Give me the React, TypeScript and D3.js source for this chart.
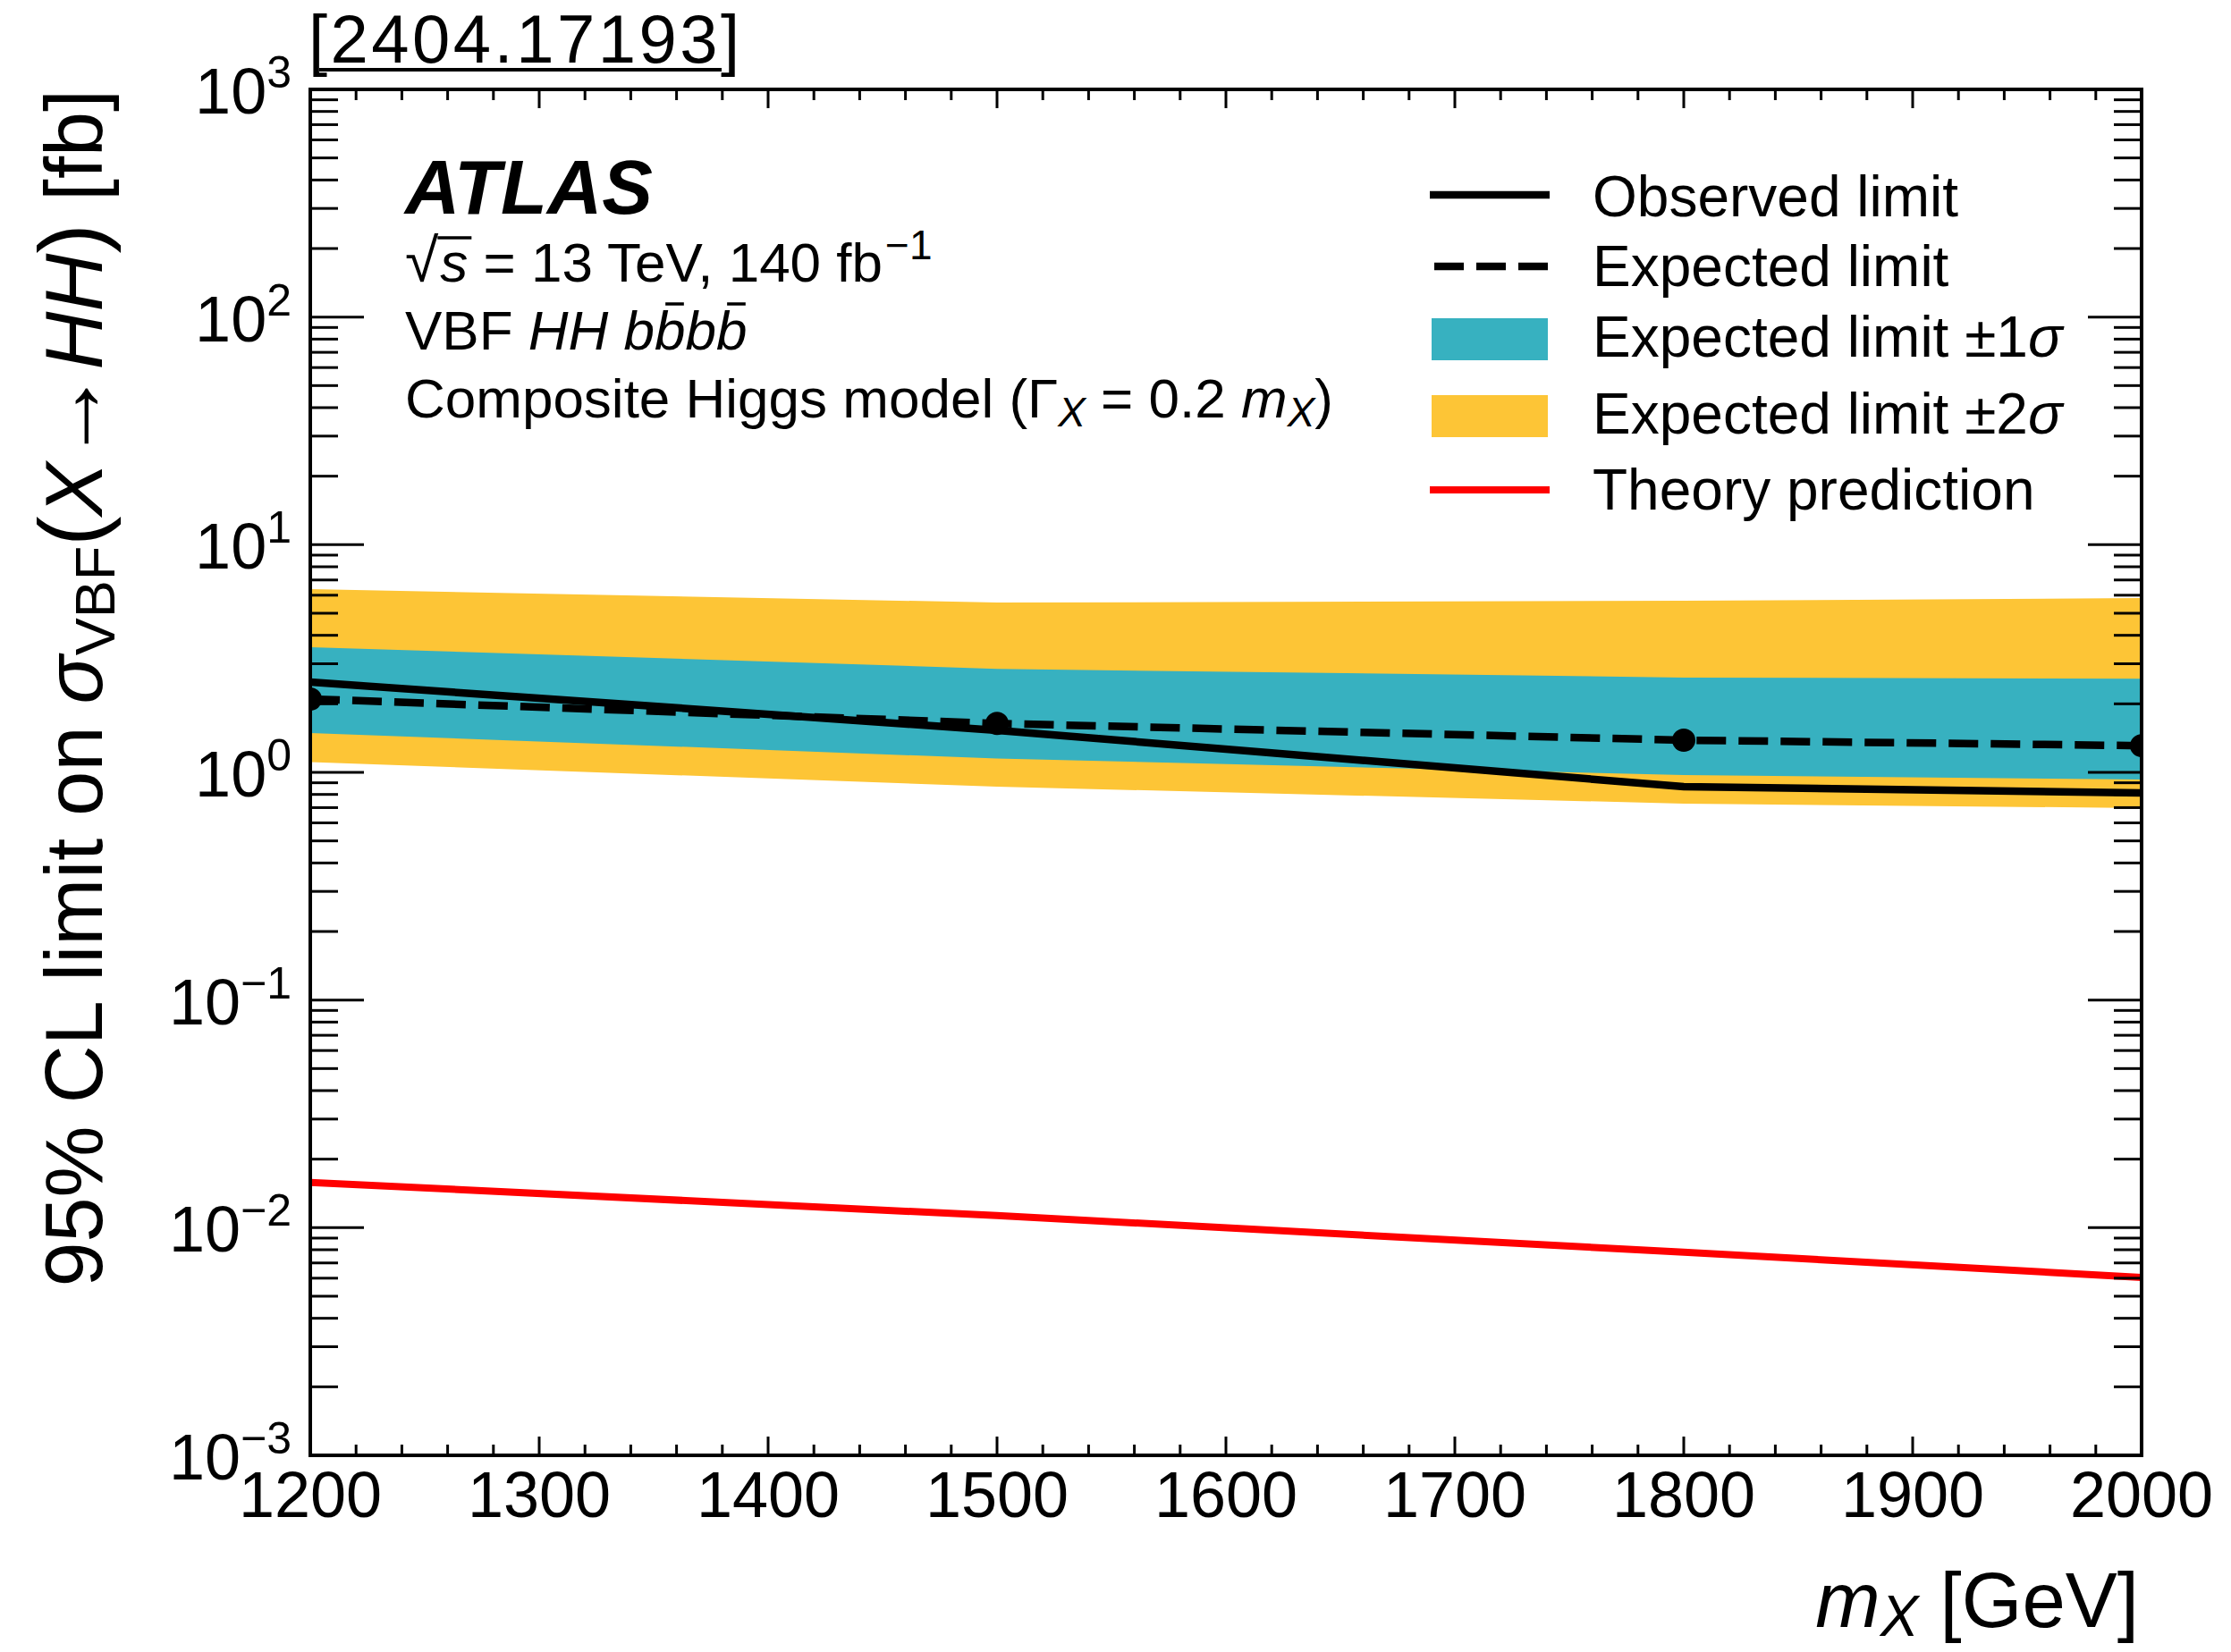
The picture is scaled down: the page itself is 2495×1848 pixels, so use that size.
import React, { useLayoutEffect, useRef, useState } from "react";
import * as d3 from "d3";

// Resonance mass points [GeV]
const MASS = [1200, 1500, 1800, 2000];
// 95% CL upper limits on sigma_VBF(X->HH) [fb]
const OBSERVED = [2.49, 1.53, 0.865, 0.812];
const EXPECTED = [2.1, 1.64, 1.385, 1.31];
const EXP_PLUS1 = [3.55, 2.85, 2.61, 2.58];
const EXP_MINUS1 = [1.49, 1.15, 0.973, 0.93];
const EXP_PLUS2 = [6.38, 5.57, 5.67, 5.83];
const EXP_MINUS2 = [1.11, 0.865, 0.729, 0.697];
// Composite Higgs model prediction [fb]
const THEORY = [0.0158, 0.0113, 0.0078, 0.00605];

const X_TICKS = [1200, 1300, 1400, 1500, 1600, 1700, 1800, 1900, 2000];
const Y_EXPONENTS = [-3, -2, -1, 0, 1, 2, 3];

const FONT = "'Liberation Sans', Arial, Helvetica, sans-serif";
const TEAL = "#37b1c0";
const YELLOW = "#fdc536";

const W = 2495;
const H = 1848;
const PL = 347;
const PR = 2395;
const PT = 100;
const PB = 1628;

type Bar = { x1: number; x2: number; y: number };

export default function App() {
  const x = d3.scaleLinear().domain([1200, 2000]).range([PL, PR]);
  const y = d3.scaleLog().domain([1e-3, 1e3]).range([PB, PT]);

  const rows = MASS.map((m, i) => ({
    m,
    obs: OBSERVED[i],
    exp: EXPECTED[i],
    p1: EXP_PLUS1[i],
    m1: EXP_MINUS1[i],
    p2: EXP_PLUS2[i],
    m2: EXP_MINUS2[i],
    th: THEORY[i],
  }));

  const band = (lo: (d: any) => number, hi: (d: any) => number) =>
    d3
      .area<any>()
      .x((d) => x(d.m))
      .y0((d) => y(lo(d)))
      .y1((d) => y(hi(d)))(rows) || "";

  const line = (acc: (d: any) => number) =>
    d3
      .line<any>()
      .x((d) => x(d.m))
      .y((d) => y(acc(d)))(rows) || "";

  const xMinor: number[] = d3.range(1200, 2001, 20).filter((v) => v % 100 !== 0);
  const yMinor: number[] = [];
  for (let k = -3; k < 3; k++) for (let j = 2; j <= 9; j++) yMinor.push(j * Math.pow(10, k));

  // overbars for sqrt(s) and the anti-b quarks, placed from measured glyph boxes
  const sRef = useRef<SVGTSpanElement>(null);
  const b2Ref = useRef<SVGTSpanElement>(null);
  const b4Ref = useRef<SVGTSpanElement>(null);
  const [bars, setBars] = useState<Bar[]>([]);
  useLayoutEffect(() => {
    const out: Bar[] = [];
    const s = sRef.current?.getBBox();
    if (s) out.push({ x1: s.x - 3, x2: s.x + s.width + 4, y: 266 });
    [b2Ref, b4Ref].forEach((r) => {
      const b = r.current?.getBBox();
      if (b) out.push({ x1: b.x + b.width * 0.35, x2: b.x + b.width * 0.95, y: 340 });
    });
    setBars(out);
  }, []);

  const legendItems = [
    { kind: "line", label: ["Observed limit"] },
    { kind: "dash", label: ["Expected limit"] },
    { kind: "teal", label: ["Expected limit ±1", "σ"] },
    { kind: "yellow", label: ["Expected limit ±2", "σ"] },
    { kind: "red", label: ["Theory prediction"] },
  ];
  const legendY = [218, 298, 379, 465, 548];
  const legendBase = [242, 320, 399, 485, 570];

  return (
    <svg
      width={W}
      height={H}
      style={{ position: "absolute", left: 0, top: 0, display: "block", background: "#fff" }}
      fontFamily={FONT}
    >
      <rect x={0} y={0} width={W} height={H} fill="#fff" />
      <defs>
        <clipPath id="plotClip">
          <rect x={PL} y={PT} width={PR - PL} height={PB - PT} />
        </clipPath>
      </defs>

      <g clipPath="url(#plotClip)">
        <path d={band((d) => d.m2, (d) => d.p2)} fill={YELLOW} />
        <path d={band((d) => d.m1, (d) => d.p1)} fill={TEAL} />
        <path d={line((d) => d.obs)} fill="none" stroke="#000" strokeWidth={8.5} />
        <path
          d={line((d) => d.exp)}
          fill="none"
          stroke="#000"
          strokeWidth={8.5}
          strokeDasharray="33 14"
        />
        {rows.map((d) => (
          <circle key={d.m} cx={x(d.m)} cy={y(d.exp)} r={13} fill="#000" />
        ))}
        <path d={line((d) => d.th)} fill="none" stroke="#ff0000" strokeWidth={8} />
      </g>

      {/* axis ticks, inward on all four sides */}
      <g stroke="#000" strokeWidth={3}>
        {X_TICKS.map((v) => (
          <g key={"xt" + v}>
            <line x1={x(v)} x2={x(v)} y1={PB} y2={PB - 21} />
            <line x1={x(v)} x2={x(v)} y1={PT} y2={PT + 21} />
          </g>
        ))}
        {xMinor.map((v) => (
          <g key={"xm" + v}>
            <line x1={x(v)} x2={x(v)} y1={PB} y2={PB - 12} />
            <line x1={x(v)} x2={x(v)} y1={PT} y2={PT + 12} />
          </g>
        ))}
        {Y_EXPONENTS.map((e) => (
          <g key={"yt" + e}>
            <line x1={PL} x2={PL + 60} y1={y(Math.pow(10, e))} y2={y(Math.pow(10, e))} />
            <line x1={PR} x2={PR - 60} y1={y(Math.pow(10, e))} y2={y(Math.pow(10, e))} />
          </g>
        ))}
        {yMinor.map((v, i) => (
          <g key={"ym" + i}>
            <line x1={PL} x2={PL + 31} y1={y(v)} y2={y(v)} />
            <line x1={PR} x2={PR - 31} y1={y(v)} y2={y(v)} />
          </g>
        ))}
      </g>
      <rect x={PL} y={PT} width={PR - PL} height={PB - PT} fill="none" stroke="#000" strokeWidth={4} />

      {/* tick labels */}
      <g fontSize={72} fill="#000">
        {X_TICKS.map((v) => (
          <text key={"xl" + v} x={x(v)} y={1697} textAnchor="middle">
            {v}
          </text>
        ))}
        {Y_EXPONENTS.map((e) => (
          <text key={"yl" + e} x={326} y={y(Math.pow(10, e)) + 27} textAnchor="end">
            10
            <tspan fontSize={50} dy={-29}>
              {e < 0 ? "\u2212" + Math.abs(e) : String(e)}
            </tspan>
          </text>
        ))}
      </g>

      {/* axis titles */}
      <text x={2392} y={1820} textAnchor="end" fontSize={87} style={{ whiteSpace: "pre" }}>
        <tspan fontStyle="italic">m</tspan>
        <tspan fontStyle="italic" fontSize={64} dy={10}>
          X
        </tspan>
        <tspan dy={-10}> [GeV]</tspan>
      </text>
      <text
        transform="translate(114,100) rotate(-90)"
        textAnchor="end"
        fontSize={90}
        style={{ whiteSpace: "pre" }}
      >
        <tspan>95% CL limit on </tspan>
        <tspan fontStyle="italic">σ</tspan>
        <tspan fontSize={63} dy={14}>
          VBF
        </tspan>
        <tspan dy={-14} fontSize={100}>
          (
        </tspan>
        <tspan fontStyle="italic">X</tspan>
        <tspan fontSize={104}>→</tspan>
        <tspan fontStyle="italic">HH</tspan>
        <tspan fontSize={100}>)</tspan>
        <tspan> [fb]</tspan>
      </text>

      {/* reference tag */}
      <text x={345} y={70} fontSize={76} fill="#000" textLength={482} lengthAdjust="spacing">
        [2404.17193]
      </text>
      <line x1={357} x2={807} y1={78} y2={78} stroke="#000" strokeWidth={4} />

      {/* experiment label */}
      <text x={453} y={239} fontSize={85} fontWeight="bold" fontStyle="italic">
        ATLAS
      </text>
      <text x={453} y={315} fontSize={62} style={{ whiteSpace: "pre" }}>
        <tspan fontSize={68}>√</tspan>
        <tspan ref={sRef} fontStyle="italic" dx={2}>
          s
        </tspan>
        <tspan> = 13 TeV, 140 fb</tspan>
        <tspan fontSize={46} dy={-25} dx={3}>
          −1
        </tspan>
      </text>
      <text x={453} y={391} fontSize={62} style={{ whiteSpace: "pre" }}>
        <tspan>VBF </tspan>
        <tspan fontStyle="italic">HH b</tspan>
        <tspan ref={b2Ref} fontStyle="italic">
          b
        </tspan>
        <tspan fontStyle="italic">b</tspan>
        <tspan ref={b4Ref} fontStyle="italic">
          b
        </tspan>
      </text>
      <text x={453} y={467} fontSize={62} style={{ whiteSpace: "pre" }}>
        <tspan>Composite Higgs model (Γ</tspan>
        <tspan fontStyle="italic" fontSize={46} dy={10}>
          X
        </tspan>
        <tspan dy={-10}> = 0.2 </tspan>
        <tspan fontStyle="italic">m</tspan>
        <tspan fontStyle="italic" fontSize={46} dy={10}>
          X
        </tspan>
        <tspan dy={-10}>)</tspan>
      </text>
      {bars.map((b, i) => (
        <line key={"bar" + i} x1={b.x1} x2={b.x2} y1={b.y} y2={b.y} stroke="#000" strokeWidth={3.5} />
      ))}

      {/* legend */}
      <g>
        {legendItems.map((it, i) => {
          const cy = legendY[i];
          let glyph: React.ReactNode = null;
          if (it.kind === "line")
            glyph = <line x1={1599} x2={1733} y1={cy} y2={cy} stroke="#000" strokeWidth={8.5} />;
          else if (it.kind === "dash")
            glyph = (
              <line
                x1={1604}
                x2={1731}
                y1={cy}
                y2={cy}
                stroke="#000"
                strokeWidth={8.5}
                strokeDasharray="33 14"
              />
            );
          else if (it.kind === "teal")
            glyph = <rect x={1601} y={cy - 23} width={130} height={47} fill={TEAL} />;
          else if (it.kind === "yellow")
            glyph = <rect x={1601} y={cy - 23} width={130} height={47} fill={YELLOW} />;
          else glyph = <line x1={1599} x2={1733} y1={cy} y2={cy} stroke="#ff0000" strokeWidth={8} />;
          return (
            <g key={"lg" + i}>
              {glyph}
              <text x={1781} y={legendBase[i]} fontSize={64}>
                {it.label[0]}
                {it.label[1] ? <tspan fontStyle="italic">{it.label[1]}</tspan> : null}
              </text>
            </g>
          );
        })}
      </g>
    </svg>
  );
}
